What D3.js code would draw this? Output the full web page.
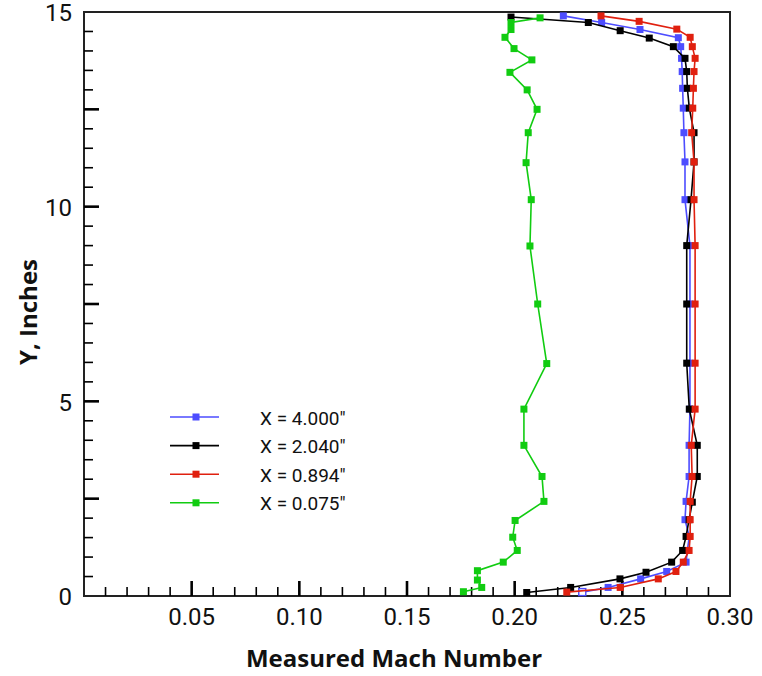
<!DOCTYPE html>
<html>
<head>
<meta charset="utf-8">
<script src="https://cdn.jsdelivr.net/npm/d3@7"></script>
<style>
  html, body { margin: 0; padding: 0; background: #fff; }
  svg { display: block; }
</style>
</head>
<body>
<svg id="chart" width="762" height="676"></svg>
<script>
// Measured Mach number profiles across the duct height at four stations
const yInches = [0.10, 0.22, 0.44, 0.63, 0.87, 1.17, 1.53, 1.96, 2.43, 3.07, 3.87, 4.80, 5.98, 7.50, 9.00, 10.18, 11.15, 11.90, 12.53, 13.04, 13.47, 13.81, 14.11, 14.34, 14.55, 14.73, 14.90];

const machX4000 = [0.2314, 0.2434, 0.2585, 0.2706, 0.2796, 0.2802, 0.2811, 0.2791, 0.2796, 0.2810, 0.2810, 0.2814, 0.2814, 0.2814, 0.2814, 0.2791, 0.2791, 0.2786, 0.2783, 0.2780, 0.2778, 0.2775, 0.2771, 0.2760, 0.2582, 0.2404, 0.2226];
const yX4000 = yInches;

const machX2040 = [0.2056, 0.2260, 0.2489, 0.2610, 0.2729, 0.2780, 0.2796, 0.2810, 0.2825, 0.2848, 0.2848, 0.2811, 0.2799, 0.2799, 0.2799, 0.2819, 0.2833, 0.2833, 0.2811, 0.2802, 0.2799, 0.2791, 0.2737, 0.2625, 0.2490, 0.2342, 0.1983];
const yX2040 = [0.09, 0.22, 0.44, 0.61, 0.87, 1.17, 1.53, 1.96, 2.41, 3.07, 3.87, 4.80, 5.98, 7.50, 9.00, 10.18, 11.15, 11.90, 12.53, 13.04, 13.47, 13.81, 14.11, 14.33, 14.52, 14.73, 14.87];

const machX0894 = [0.2242, 0.2490, 0.2667, 0.2749, 0.2783, 0.2810, 0.2815, 0.2815, 0.2815, 0.2824, 0.2820, 0.2838, 0.2838, 0.2838, 0.2838, 0.2833, 0.2833, 0.2822, 0.2827, 0.2830, 0.2833, 0.2838, 0.2825, 0.2815, 0.2753, 0.2578, 0.2401];
const yX0894 = [0.10, 0.22, 0.44, 0.63, 0.87, 1.17, 1.53, 1.96, 2.43, 3.07, 3.87, 4.80, 5.98, 7.50, 9.00, 10.18, 11.15, 11.90, 12.53, 13.04, 13.47, 13.81, 14.11, 14.35, 14.56, 14.76, 14.90];

const machX0075 = [0.1762, 0.1847, 0.1827, 0.1827, 0.1947, 0.2012, 0.1991, 0.2002, 0.2136, 0.2127, 0.2043, 0.2043, 0.2149, 0.2107, 0.2071, 0.2077, 0.2053, 0.2063, 0.2104, 0.2058, 0.1978, 0.2080, 0.1997, 0.1955, 0.1983, 0.1983, 0.2118];
const yX0075 = [0.11, 0.22, 0.41, 0.65, 0.87, 1.17, 1.51, 1.94, 2.43, 3.07, 3.87, 4.80, 5.97, 7.50, 8.99, 10.18, 11.13, 11.90, 12.50, 13.00, 13.45, 13.77, 14.06, 14.35, 14.55, 14.73, 14.85];

const seriesNames = ["X = 4.000\u2033", "X = 2.040\u2033", "X = 0.894\u2033", "X = 0.075\u2033"];
const seriesColors = ["#4d4dff", "#000000", "#e0200f", "#11cc11"];
const seriesMach = [machX4000, machX2040, machX0894, machX0075];
const seriesY = [yX4000, yX2040, yX0894, yX0075];
// the lowest X = 4.000" reading is drawn as a hollow marker
const hollowPoints = [[0, 0]];

const xTickValues = [0.05, 0.10, 0.15, 0.20, 0.25, 0.30];
const yTickValues = [0, 5, 10, 15];

const svg = d3.select("#chart");
const plotLeft = 84, plotRight = 730, plotTop = 12, plotBottom = 596;

const x = d3.scaleLinear().domain([0, 0.30]).range([plotLeft, plotRight]);
const y = d3.scaleLinear().domain([0, 15]).range([plotBottom, plotTop]);

const tickFont = "Roboto, 'Open Sans', sans-serif";
const legendFont = "Roboto, 'DejaVu Sans', sans-serif";
const titleFont = "'Open Sans', 'Liberation Sans', sans-serif";

// frame
svg.append("rect")
  .attr("x", plotLeft).attr("y", plotTop)
  .attr("width", plotRight - plotLeft).attr("height", plotBottom - plotTop)
  .attr("fill", "none").attr("stroke", "#222").attr("stroke-width", 2);

// x axis: inward ticks, minor every 0.01, major every 0.05
const xMinor = d3.range(1, 30).map(i => i / 100);
const xAxisG = svg.append("g").attr("transform", `translate(0,${plotBottom})`);
xAxisG.selectAll("line").data(xMinor).join("line")
  .attr("x1", d => x(d)).attr("x2", d => x(d))
  .attr("y1", 0).attr("y2", d => (Math.round(d * 100) % 5 === 0) ? -15 : -9)
  .attr("stroke", "#000")
  .attr("stroke-width", d => (Math.round(d * 100) % 5 === 0) ? 2.6 : 1.6);
xAxisG.selectAll("text").data(xTickValues).join("text")
  .attr("x", d => x(d)).attr("y", 29)
  .attr("text-anchor", "middle")
  .attr("font-family", tickFont).attr("font-size", 24)
  .attr("fill", "#111")
  .text(d => d3.format(".2f")(d));

// y axis: inward ticks, minor every 0.5, major every 2.5
const yMinor = d3.range(1, 30).map(i => i / 2);
const yAxisG = svg.append("g").attr("transform", `translate(${plotLeft},0)`);
yAxisG.selectAll("line").data(yMinor).join("line")
  .attr("y1", d => y(d)).attr("y2", d => y(d))
  .attr("x1", 0).attr("x2", d => (d % 2.5 === 0) ? 15 : 9)
  .attr("stroke", "#000")
  .attr("stroke-width", d => (d % 2.5 === 0) ? 2.6 : 1.6);
yAxisG.selectAll("text").data(yTickValues).join("text")
  .attr("x", -12).attr("y", d => y(d) + 1)
  .attr("dy", "0.35em")
  .attr("text-anchor", "end")
  .attr("font-family", tickFont).attr("font-size", 24)
  .attr("fill", "#111")
  .text(d => d);

// axis titles
svg.append("text")
  .attr("x", 394).attr("y", 667)
  .attr("text-anchor", "middle")
  .attr("font-family", titleFont).attr("font-weight", "bold").attr("font-size", 24)
  .attr("fill", "#111")
  .text("Measured Mach Number");
svg.append("text")
  .attr("transform", `translate(37,312) rotate(-90)`)
  .attr("text-anchor", "middle")
  .attr("font-family", titleFont).attr("font-weight", "bold").attr("font-size", 24)
  .attr("fill", "#111")
  .text("Y, Inches");

// profiles
const line = d3.line().x(d => x(d[0])).y(d => y(d[1]));
const ms = 7;
const isHollow = (i, j) => hollowPoints.some(p => p[0] === i && p[1] === j);
seriesMach.forEach((vals, i) => {
  const pts = vals.map((v, j) => [v, seriesY[i][j], j]);
  const g = svg.append("g");
  g.append("path").datum(pts)
    .attr("d", line).attr("fill", "none")
    .attr("stroke", seriesColors[i]).attr("stroke-width", 1.6);
  g.selectAll("rect").data(pts).join("rect")
    .attr("x", d => x(d[0]) - ms / 2).attr("y", d => y(d[1]) - ms / 2)
    .attr("width", ms).attr("height", ms)
    .attr("fill", d => isHollow(i, d[2]) ? "#fff" : seriesColors[i])
    .attr("stroke", d => isHollow(i, d[2]) ? seriesColors[i] : "none")
    .attr("stroke-width", 1.4);
});

// legend
const legend = svg.append("g");
seriesNames.forEach((name, i) => {
  const ly = 417 + i * 28.6;
  legend.append("line")
    .attr("x1", 170).attr("x2", 219).attr("y1", ly).attr("y2", ly)
    .attr("stroke", seriesColors[i]).attr("stroke-width", 1.6);
  legend.append("rect")
    .attr("x", 196 - ms / 2).attr("y", ly - ms / 2)
    .attr("width", ms).attr("height", ms)
    .attr("fill", seriesColors[i]);
  legend.append("text")
    .attr("x", 260).attr("y", ly + 1).attr("dy", "0.35em")
    .attr("font-family", legendFont).attr("font-size", 19)
    .attr("fill", "#111")
    .text(name);
});
</script>
</body>
</html>
